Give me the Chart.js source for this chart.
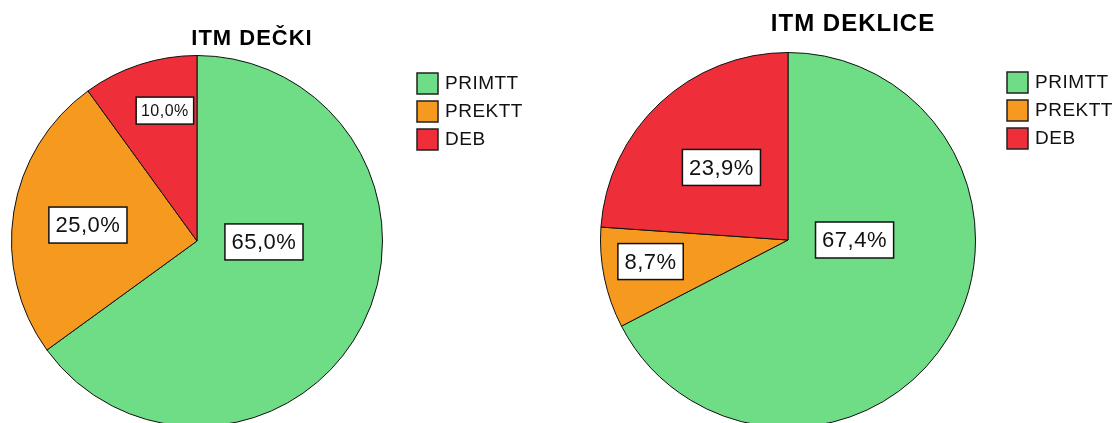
<!DOCTYPE html>
<html>
<head>
<meta charset="utf-8">
<script src="https://cdn.jsdelivr.net/npm/chart.js@4/dist/chart.umd.min.js"></script>
<style>
  html, body { margin: 0; padding: 0; background: #fff; overflow: hidden; }
  body { width: 1117px; height: 423px; position: relative; }
  .box { position: absolute; top: 0; height: 440px; }
  #left { left: 0; width: 555px; }
  #right { left: 555px; width: 562px; }
</style>
</head>
<body>
<div class="box" id="left"><canvas id="chart-decki"></canvas></div>
<div class="box" id="right"><canvas id="chart-deklice"></canvas></div>
<script>
const categories = ['PRIMTT', 'PREKTT', 'DEB'];
const deckiValues = [65.0, 25.0, 10.0];
const deklicaValues = [67.4, 8.7, 23.9];
const sliceColors = ['#6fdc86', '#f6991f', '#ee2f3a'];

// percent label in the Slovene style: 65,0%
function fmt(v) {
    return v.toFixed(1).replace('.', ',') + '%';
}

// title, legend and boxed value labels drawn on top of the pie
const decorPlugin = {
    id: 'decor',
    afterDraw(chart, args, opts) {
        const ctx = chart.ctx;
        const meta = chart.getDatasetMeta(0);
        const ds = chart.data.datasets[0];

        ctx.save();
        // title
        ctx.fillStyle = '#000';
        ctx.font = 'bold ' + opts.titleSize + 'px "Liberation Sans", Arial, sans-serif';
        ctx.letterSpacing = '1px';
        ctx.textAlign = 'center';
        ctx.textBaseline = 'alphabetic';
        ctx.fillText(opts.title, opts.titleX, opts.titleY);

        // legend
        ctx.font = '19px "Liberation Sans", Arial, sans-serif';
        ctx.letterSpacing = '0.5px';
        ctx.textAlign = 'left';
        ctx.textBaseline = 'middle';
        chart.data.labels.forEach((label, i) => {
            const y = opts.legendY + i * 28;
            ctx.fillStyle = ds.backgroundColor[i];
            ctx.fillRect(opts.legendX, y, 21, 21);
            ctx.lineWidth = 1.5;
            ctx.strokeStyle = '#222';
            ctx.strokeRect(opts.legendX, y, 21, 21);
            ctx.fillStyle = '#111';
            ctx.fillText(label, opts.legendX + 28, y + 11);
        });

        // value labels
        meta.data.forEach((arc, i) => {
            const off = opts.labelOffsets[i];
            const x = arc.x + off[0] * arc.outerRadius;
            const y = arc.y + off[1] * arc.outerRadius;
            const size = opts.labelSizes[i];
            const text = fmt(ds.data[i]);
            ctx.font = size + 'px "Liberation Sans", Arial, sans-serif';
            const w = ctx.measureText(text).width + size * 0.6;
            const h = size >= 20 ? 36 : 27;
            ctx.fillStyle = '#fff';
            ctx.fillRect(x - w / 2, y - h / 2, w, h);
            ctx.lineWidth = 1.5;
            ctx.strokeStyle = '#111';
            ctx.strokeRect(x - w / 2, y - h / 2, w, h);
            ctx.fillStyle = '#111';
            ctx.textAlign = 'center';
            ctx.textBaseline = 'middle';
            ctx.fillText(text, x, y + 1);
        });
        ctx.restore();
    }
};

function makePie(id, values, padding, decor) {
    return new Chart(document.getElementById(id), {
        type: 'pie',
        data: {
            labels: categories,
            datasets: [{
                data: values,
                backgroundColor: sliceColors,
                borderColor: '#111',
                borderWidth: 1
            }]
        },
        options: {
            responsive: true,
            maintainAspectRatio: false,
            animation: false,
            devicePixelRatio: 1,
            layout: { padding: padding },
            plugins: {
                legend: { display: false },
                tooltip: { enabled: false },
                decor: decor
            }
        },
        plugins: [decorPlugin]
    });
}

makePie('chart-decki', deckiValues,
    { left: 11, right: 172, top: 55, bottom: 13 },
    {
        title: 'ITM DEČKI', titleSize: 22, titleX: 252, titleY: 45,
        legendX: 417, legendY: 73,
        labelOffsets: [[0.361, 0.005], [-0.588, -0.086], [-0.173, -0.703]],
        labelSizes: [22, 22, 16]
    });

makePie('chart-deklice', deklicaValues,
    { left: 45, right: 141, top: 52, bottom: 12 },
    {
        title: 'ITM DEKLICE', titleSize: 24, titleX: 298, titleY: 31,
        legendX: 452, legendY: 72,
        labelOffsets: [[0.355, 0], [-0.733, 0.115], [-0.355, -0.387]],
        labelSizes: [22, 22, 22]
    });
</script>
</body>
</html>
